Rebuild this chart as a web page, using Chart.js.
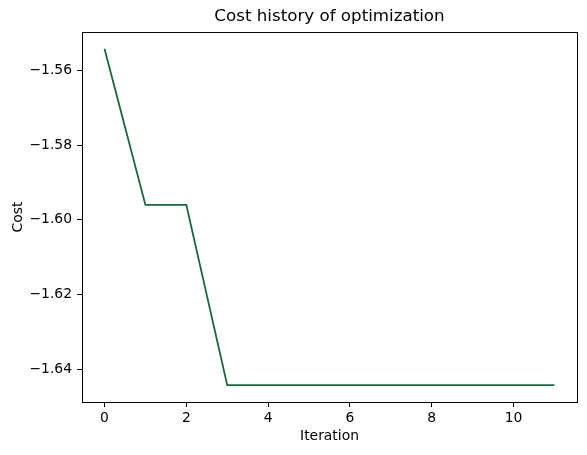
<!DOCTYPE html>
<html>
<head>
<meta charset="utf-8">
<script src="https://cdn.jsdelivr.net/npm/chart.js@4"></script>
<style>
  html, body { margin: 0; padding: 0; background: #fff; }
  #wrap { width: 587px; height: 455px; }
</style>
</head>
<body>
<div id="wrap"><canvas id="costChart" width="587" height="455"></canvas></div>
<script>
// Cost per optimization iteration
const iterations = [0, 1, 2, 3, 4, 5, 6, 7, 8, 9, 10, 11];
const costs = [-1.5542, -1.5960, -1.5960, -1.6443, -1.6443, -1.6443,
               -1.6443, -1.6443, -1.6443, -1.6443, -1.6443, -1.6443];
const xTicks = [0, 2, 4, 6, 8, 10];
const yTicks = [-1.56, -1.58, -1.60, -1.62, -1.64];

const font = { family: 'DejaVu Sans', size: 13.9 };

// Draw the top and right spines like matplotlib
const frameBox = {
    id: 'frameBox',
    afterDraw(chart) {
        const { ctx, chartArea: a } = chart;
        ctx.save();
        ctx.strokeStyle = '#000';
        ctx.lineWidth = 1;
        ctx.strokeRect(a.left + 0.5, a.top + 0.5, a.right - a.left, a.bottom - a.top);
        ctx.restore();
    }
};

const ctx = document.getElementById('costChart').getContext('2d');
const costChart = new Chart(ctx, {
    type: 'line',
    data: {
        datasets: [{
            label: 'Cost',
            data: iterations.map((it, i) => ({ x: it, y: costs[i] })),
            borderColor: '#15693a',
            borderWidth: 1.8,
            pointRadius: 0,
            tension: 0,
            fill: false
        }]
    },
    options: {
        responsive: false,
        animation: false,
        layout: { padding: { left: 0, right: 10, top: 0, bottom: 0 } },
        plugins: {
            legend: { display: false },
            tooltip: { enabled: false },
            title: {
                display: true,
                fullSize: false,  // center over the plot area, not the canvas
                text: 'Cost history of optimization',
                color: '#000',
                font: { family: 'DejaVu Sans', size: 16.7, weight: 'normal' },
                padding: { top: 7, bottom: 5 }
            }
        },
        scales: {
            x: {
                type: 'linear',
                min: -0.55,
                max: 11.55,
                afterBuildTicks: scale => { scale.ticks = xTicks.map(v => ({ value: v })); },
                afterFit: scale => { scale.height = 53; },
                ticks: { color: '#000', font: font, padding: 3, maxRotation: 0 },
                grid: { display: true, drawOnChartArea: false, drawTicks: true, tickLength: 5, color: '#000' },
                border: { display: true, color: '#000' },
                title: { display: true, text: 'Iteration', color: '#000', font: font, padding: { top: 0, bottom: 10 } }
            },
            y: {
                type: 'linear',
                min: -1.6488,
                max: -1.5497,
                afterBuildTicks: scale => { scale.ticks = yTicks.map(v => ({ value: v })); },
                afterFit: scale => { scale.width = 82; },
                ticks: { color: '#000', font: font, padding: 5, callback: v => v.toFixed(2).replace('-', '\u2212') },
                grid: { display: true, drawOnChartArea: false, drawTicks: true, tickLength: 5, color: '#000' },
                border: { display: true, color: '#000' },
                title: { display: true, text: 'Cost', color: '#000', font: font, padding: { top: 10, bottom: 0 } }
            }
        }
    },
    plugins: [frameBox]
});
</script>
</body>
</html>
